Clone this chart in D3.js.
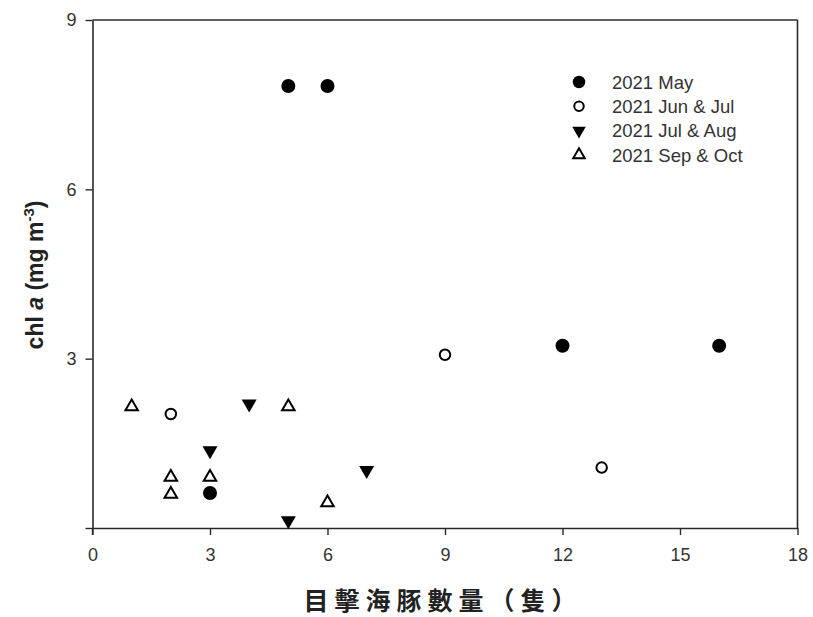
<!DOCTYPE html>
<html><head><meta charset="utf-8">
<script src="https://cdn.jsdelivr.net/npm/d3@7"></script>
<style>body{margin:0;background:#fff}svg{display:block}</style>
</head><body>
<svg id="c" width="813" height="617"></svg>
<script>
const xTicks = [0,3,6,9,12,15,18];
const yTicks = [0,3,6,9];
const yTickLabels = ["", "3", "6", "9"];
const seriesNames = ["2021 May","2021 Jun & Jul","2021 Jul & Aug","2021 Sep & Oct"];
const mayX = [5,6,12,16,3];
const mayY = [7.83,7.83,3.23,3.23,0.62];
const junJulX = [2,9,13];
const junJulY = [2.02,3.07,1.07];
const julAugX = [4,3,7,5];
const julAugY = [2.2,1.37,1.02,0.13];
const sepOctX = [1,5,2,2,3,6];
const sepOctY = [2.15,2.15,0.9,0.6,0.9,0.45];
const xLabel = "目擊海豚數量（隻）";

const svg = d3.select("#c");
const L=92.5, R=797.5, T=20, B=528;
const x = d3.scaleLinear().domain([0,18]).range([L,R]);
const y = d3.scaleLinear().domain([0,9]).range([B,T]);
const ink="#2a2a2a";
const font="'Liberation Sans',Arial,sans-serif";

// frame
svg.append("line").attr("x1",L).attr("x2",R).attr("y1",T).attr("y2",T).attr("stroke",ink).attr("stroke-width",1.6);
svg.append("line").attr("x1",R).attr("x2",R).attr("y1",T).attr("y2",B).attr("stroke",ink).attr("stroke-width",1.6);

const xa = svg.append("g").attr("transform",`translate(0,${B})`)
  .call(d3.axisBottom(x).tickValues(xTicks).tickSize(7).tickPadding(13).tickSizeOuter(0));
const ya = svg.append("g").attr("transform",`translate(${L},0)`)
  .call(d3.axisLeft(y).tickValues(yTicks).tickFormat((d,i)=>yTickLabels[i]).tickSize(7).tickPadding(9).tickSizeOuter(0));
[xa,ya].forEach(g=>{
  g.select(".domain").attr("stroke",ink).attr("stroke-width",1.6);
  g.selectAll(".tick line").attr("stroke",ink).attr("stroke-width",1.4);
  g.selectAll("text").attr("font-family",font).attr("font-size",18).attr("fill","#333");
});
// extend y-axis line below crossing
svg.append("line").attr("x1",L).attr("x2",L).attr("y1",B).attr("y2",B+7).attr("stroke",ink).attr("stroke-width",1.4);

const circ = d3.symbol().type(d3.symbolCircle);
const tri = d3.symbol().type(d3.symbolTriangle);
const styles = [
  {path:(s)=>circ.size(Math.PI*(s/2)*(s/2))(), fill:"#000", stroke:"none", rot:0, size:14, lsize:12.5},
  {path:(s)=>circ.size(Math.PI*(s/2)*(s/2))(), fill:"none", stroke:"#000", rot:0, size:10.5, lsize:9.5},
  {path:(s)=>tri.size(Math.sqrt(3)/4*s*s)(), fill:"#000", stroke:"none", rot:180, size:15, lsize:13.5},
  {path:(s)=>tri.size(Math.sqrt(3)/4*s*s)(), fill:"none", stroke:"#000", rot:0, size:12.5, lsize:11.5}
];
const data = [[mayX,mayY],[junJulX,junJulY],[julAugX,julAugY],[sepOctX,sepOctY]];
data.forEach(([xs,ys],k)=>{
  const st=styles[k];
  svg.append("g").selectAll("path").data(xs.map((v,i)=>[v,ys[i]])).join("path")
    .attr("d",st.path(st.size))
    .attr("transform",d=>`translate(${x(d[0])},${y(d[1])}) rotate(${st.rot})`)
    .attr("fill",st.fill).attr("stroke",st.stroke).attr("stroke-width",2);
});

// legend
const lg = svg.append("g");
seriesNames.forEach((n,k)=>{
  const st=styles[k], cy=82+k*24.3;
  lg.append("path").attr("d",st.path(st.lsize))
    .attr("transform",`translate(579,${cy}) rotate(${st.rot})`)
    .attr("fill",st.fill).attr("stroke",st.stroke).attr("stroke-width",2);
  lg.append("text").attr("x",612).attr("y",cy).attr("dy","0.36em")
    .attr("font-family",font).attr("font-size",18.5).attr("fill","#333").text(n);
});

// y label
const yl = svg.append("text").attr("transform","translate(43,275) rotate(-90)")
  .attr("text-anchor","middle").attr("font-family",font)
  .attr("font-size",23).attr("font-weight","bold").attr("fill","#222");
yl.append("tspan").text("chl ");
yl.append("tspan").attr("font-style","italic").text("a");
yl.append("tspan").text(" (mg m");
yl.append("tspan").attr("font-size",15).attr("dy",-9).text("-3");
yl.append("tspan").attr("dy",9).text(")");

// x label
svg.append("text").attr("x",443).attr("y",610).attr("text-anchor","middle")
  .attr("font-family","'Noto Sans CJK TC','Noto Sans CJK SC',sans-serif")
  .attr("font-size",25).attr("font-weight","bold").attr("letter-spacing",6).attr("fill","#222").text(xLabel);
</script>
</body></html>
